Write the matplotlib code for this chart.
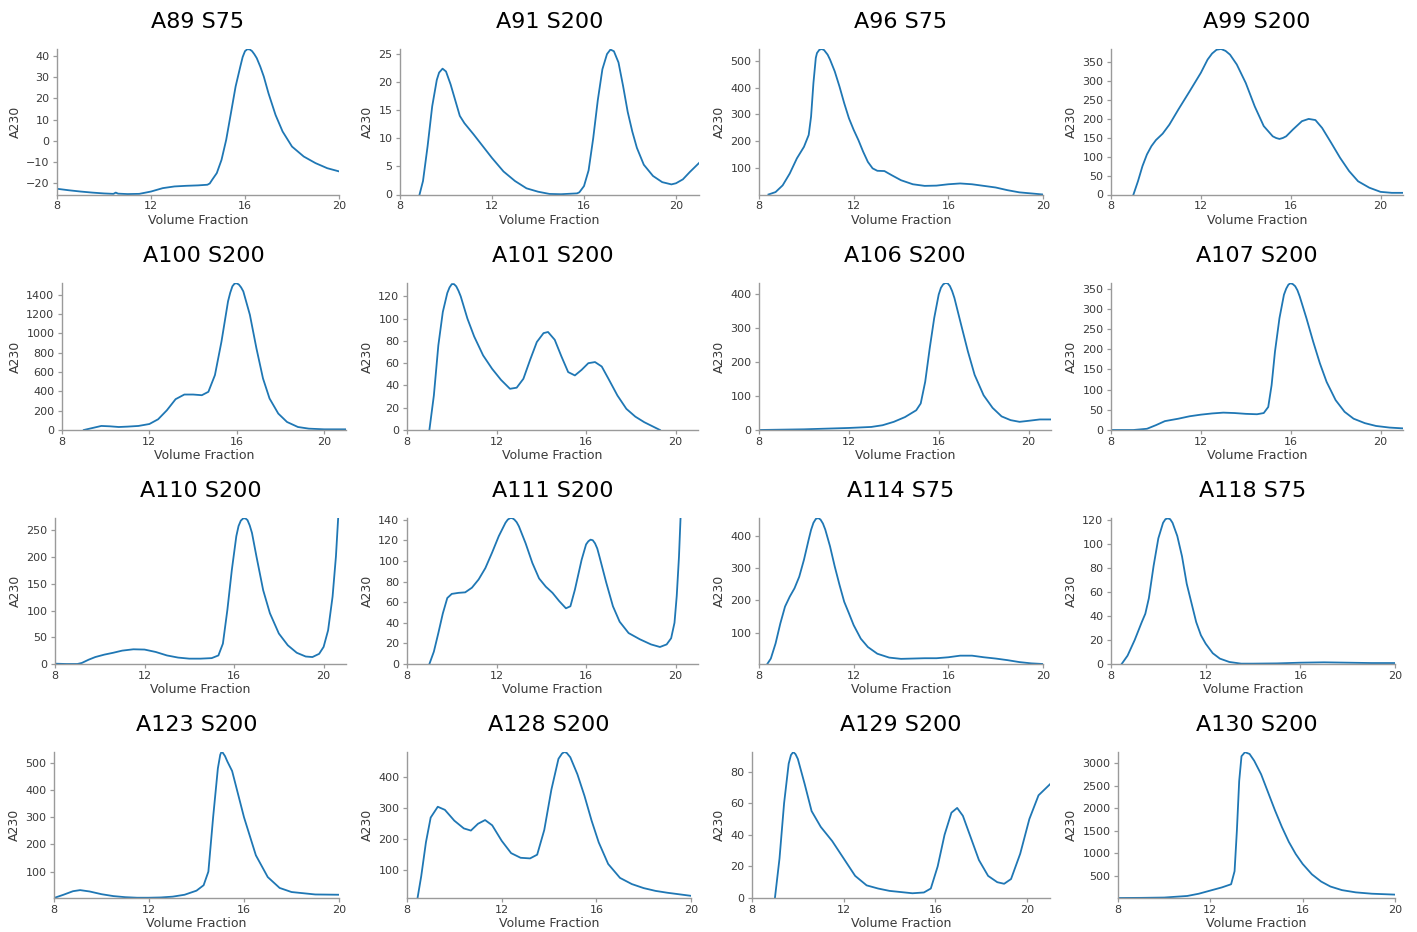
import matplotlib
matplotlib.use("Agg")
import matplotlib.pyplot as plt
from matplotlib.ticker import MultipleLocator

# ---------------- data ----------------
titles = ["A89 S75", "A91 S200", "A96 S75", "A99 S200",
          "A100 S200", "A101 S200", "A106 S200", "A107 S200",
          "A110 S200", "A111 S200", "A114 S75", "A118 S75",
          "A123 S200", "A128 S200", "A129 S200", "A130 S200"]

a89_x = [8.0, 8.5, 9.0, 9.5, 10.0, 10.4, 10.5, 10.6, 11.0, 11.5, 12.0, 12.5, 13.0, 13.5, 14.0, 14.4, 14.5, 14.6,
         14.8, 15.0, 15.2, 15.4, 15.6, 15.8, 15.9, 16.0, 16.1, 16.2, 16.3, 16.4, 16.5, 16.65, 16.8, 17.0, 17.3,
         17.6, 18.0, 18.5, 19.0, 19.5, 20.0]
a89_y = [-22.6, -23.3, -23.9, -24.4, -24.8, -25.0, -24.4, -24.9, -25.1, -25.0, -23.9, -22.3, -21.5, -21.2, -21.0,
         -20.7, -20.1, -18.4, -15.2, -9.0, 0.5, 13.0, 25.6, 35.0, 39.5, 42.3, 43.2, 43.1, 42.3, 40.8, 39.0, 35.0,
         30.3, 22.4, 12.2, 4.4, -2.7, -7.4, -10.5, -12.9, -14.4]

a91_x = [8.85, 9.0, 9.2, 9.4, 9.6, 9.7, 9.85, 10.0, 10.2, 10.4, 10.6, 10.8, 11.2, 11.6, 12.0, 12.5, 13.0, 13.5,
         14.0, 14.5, 15.0, 15.7, 15.8, 16.0, 16.2, 16.4, 16.6, 16.8, 17.0, 17.15, 17.3, 17.5, 17.7, 17.9, 18.1,
         18.3, 18.6, 19.0, 19.4, 19.8, 20.0, 20.3, 20.6, 21.0]
a91_y = [0.0, 2.4, 8.6, 15.7, 20.4, 21.7, 22.4, 21.9, 19.6, 16.8, 14.0, 12.7, 10.7, 8.6, 6.5, 4.1, 2.4, 1.1, 0.5,
         0.1, 0.05, 0.2, 0.4, 1.5, 4.3, 10.0, 16.8, 22.3, 25.0, 25.8, 25.5, 23.5, 19.3, 14.7, 11.2, 8.3, 5.3, 3.3,
         2.2, 1.8, 2.0, 2.7, 4.0, 5.6]

a96_x = [8.4, 8.7, 9.0, 9.3, 9.6, 9.9, 10.1, 10.2, 10.3, 10.4, 10.45, 10.55, 10.65, 10.75, 10.9, 11.0, 11.2, 11.4,
         11.6, 11.8, 12.0, 12.2, 12.4, 12.6, 12.8, 13.0, 13.3, 13.6, 14.0, 14.5, 15.0, 15.5, 16.0, 16.5, 17.0,
         17.5, 18.0, 18.5, 19.0, 19.5, 20.0]
a96_y = [3, 12, 37, 81, 137, 180, 224, 292, 417, 510, 528, 540, 543, 539, 522, 504, 460, 404, 342, 286, 243, 205,
         162, 124, 100, 91, 90, 75, 56, 41, 35, 36, 41, 44, 41, 35, 29, 19, 11, 7, 3]

a99_x = [9.0, 9.2, 9.4, 9.6, 9.8, 10.0, 10.3, 10.6, 11.0, 11.5, 12.0, 12.3, 12.5, 12.7, 12.9, 13.1, 13.3, 13.6,
         14.0, 14.4, 14.8, 15.2, 15.35, 15.5, 15.65, 15.8, 16.1, 16.5, 16.8, 17.1, 17.4, 17.8, 18.2, 18.6, 19.0,
         19.5, 20.0, 20.5, 21.0]
a99_y = [0, 35, 75, 106, 128, 144, 161, 185, 225, 273, 322, 357, 373, 383, 385, 380, 370, 344, 295, 233, 181, 154,
         149.5, 147, 149.5, 154, 172, 194, 200, 197, 176, 137, 97, 62, 35, 18, 7, 4.4, 4.4]

a100_x = [9.0, 9.4, 9.8, 10.2, 10.6, 11.0, 11.5, 12.0, 12.4, 12.8, 13.2, 13.6, 14.0, 14.4, 14.7, 15.0, 15.3, 15.6,
          15.7, 15.8, 15.9, 16.0, 16.1, 16.2, 16.3, 16.6, 16.9, 17.2, 17.5, 17.9, 18.3, 18.8, 19.3, 20.0, 21.0]
a100_y = [0, 21, 42, 38, 31, 35, 42, 62, 111, 204, 319, 367, 367, 360, 395, 568, 915, 1331, 1420, 1487, 1515, 1518,
          1504, 1475, 1434, 1192, 845, 534, 326, 170, 83, 31, 14, 7, 7]

a101_x = [9.0, 9.2, 9.4, 9.6, 9.8, 9.9, 10.0, 10.1, 10.2, 10.3, 10.4, 10.7, 11.0, 11.4, 11.8, 12.2, 12.6, 12.9,
          13.2, 13.5, 13.8, 14.1, 14.3, 14.6, 14.9, 15.2, 15.5, 15.8, 16.1, 16.4, 16.7, 17.0, 17.4, 17.8, 18.2,
          18.6, 19.0, 19.3]
a101_y = [0, 31, 76, 106, 123, 128, 131, 131, 129, 125, 120, 100, 84, 67, 55, 45, 37, 38, 46, 63, 79, 87, 88, 81,
          66, 52, 49, 54, 60, 61, 57, 46, 31, 19, 12, 7, 3, 0]

a106_x = [8.0, 9.0, 10.0, 11.0, 12.0, 13.0, 13.5, 14.0, 14.5, 15.0, 15.2, 15.4, 15.6, 15.8, 16.0, 16.1, 16.2, 16.3,
          16.4, 16.5, 16.6, 16.7, 17.0, 17.3, 17.6, 18.0, 18.4, 18.8, 19.2, 19.6, 20.0, 20.5, 21.0]
a106_y = [0, 1, 2, 4, 6, 9, 14, 24, 38, 58, 78, 142, 240, 329, 398, 418, 428, 432, 431, 423, 408, 388, 309, 231,
          162, 102, 65, 40, 29, 24, 27, 31, 31]

a107_x = [8.0, 9.0, 9.6, 10.0, 10.4, 11.0, 11.5, 12.0, 12.5, 13.0, 13.5, 14.0, 14.5, 14.8, 15.0, 15.15, 15.3, 15.5,
          15.7, 15.8, 15.9, 16.0, 16.1, 16.2, 16.3, 16.4, 16.7, 17.0, 17.3, 17.6, 18.0, 18.4, 18.8, 19.3, 19.8,
          20.4, 21.0]
a107_y = [0, 0, 3, 12, 22, 28, 34, 38, 41, 43, 42, 40, 39, 42, 57, 111, 194, 277, 335, 350, 360, 363.5, 361, 356,
          346, 331, 277, 219, 165, 119, 74, 45, 28, 17, 10, 6, 4]

a110_x = [8.0, 8.5, 9.0, 9.2, 9.5, 9.8, 10.2, 10.6, 11.0, 11.5, 12.0, 12.5, 13.0, 13.5, 14.0, 14.5, 15.0, 15.3,
          15.5, 15.7, 15.9, 16.1, 16.2, 16.3, 16.4, 16.5, 16.6, 16.7, 16.8, 17.0, 17.3, 17.6, 18.0, 18.4, 18.8,
          19.2, 19.5, 19.8, 20.0, 20.2, 20.4, 20.55, 20.65]
a110_y = [0.6, 0, 0, 2, 8, 13, 17.5, 21, 25, 27.5, 27, 22.5, 16, 12, 10, 10, 11, 16, 38, 101, 176, 239, 258, 268,
          272, 272.5, 269, 259, 245, 201, 138, 95, 57, 35, 21, 14, 13, 19, 32, 63, 126, 201, 273]

a111_x = [9.0, 9.2, 9.4, 9.6, 9.8, 10.0, 10.3, 10.6, 10.9, 11.2, 11.5, 11.8, 12.1, 12.4, 12.5, 12.6, 12.7, 12.8,
          12.9, 13.0, 13.3, 13.6, 13.9, 14.2, 14.5, 14.8, 15.1, 15.3, 15.5, 15.8, 16.0, 16.1, 16.2, 16.3, 16.4,
          16.5, 16.6, 16.9, 17.2, 17.5, 17.9, 18.4, 18.9, 19.3, 19.6, 19.8, 19.95, 20.05, 20.15, 20.22]
a111_y = [0, 12, 30, 49, 64, 68, 69, 69.5, 74, 82, 93, 108, 124, 137, 140, 141.4, 141.5, 140, 137.5, 133.5, 117,
          98, 83, 75, 69, 61, 54, 56, 72, 101, 116, 119, 120.6, 120, 117, 112, 104, 79, 56, 41, 30, 24, 19, 16.5,
          19, 25, 40, 66, 104, 141.6]

a114_x = [8.35, 8.5, 8.7, 8.9, 9.1, 9.3, 9.5, 9.7, 9.9, 10.1, 10.2, 10.3, 10.4, 10.5, 10.6, 10.7, 10.8, 11.0, 11.2,
          11.4, 11.6, 11.8, 12.0, 12.3, 12.6, 13.0, 13.5, 14.0, 14.5, 15.0, 15.5, 16.0, 16.5, 17.0, 17.5, 18.0,
          18.5, 19.0, 19.5, 20.0]
a114_y = [2, 19, 66, 128, 181, 212, 238, 274, 327, 390, 420, 442, 454, 457, 452, 440, 421, 369, 306, 249, 196, 160,
          123, 81, 55, 34, 22, 18, 19, 20, 20, 23, 28, 28, 23, 19, 14, 8, 4, 2]

a118_x = [8.45, 8.7, 9.0, 9.3, 9.45, 9.6, 9.8, 10.0, 10.2, 10.3, 10.4, 10.5, 10.6, 10.8, 11.0, 11.2, 11.4, 11.6,
          11.8, 12.0, 12.3, 12.6, 13.0, 13.5, 14.0, 15.0, 16.0, 17.0, 18.0, 19.0, 20.0]
a118_y = [0, 7, 20, 35, 42, 55, 82, 105, 118, 121, 121.7, 121, 118, 107, 90, 67, 51, 35, 24, 17, 9, 4.5, 1.7, 0.3,
          0.3, 0.5, 1.1, 1.4, 1.1, 0.8, 0.8]

a123_x = [8.0, 8.4, 8.8, 9.1, 9.5, 10.0, 10.5, 11.0, 11.5, 12.0, 12.5, 13.0, 13.5, 14.0, 14.3, 14.5, 14.7, 14.9,
          15.0, 15.05, 15.1, 15.2, 15.3, 15.5, 16.0, 16.5, 17.0, 17.5, 18.0, 19.0, 20.0]
a123_y = [3, 15, 28, 32, 27, 17, 10, 6, 4, 4, 5, 8, 15, 30, 50, 100, 300, 480, 530, 540, 538, 525, 505, 470, 300,
          160, 80, 40, 25, 16, 15]

a128_x = [8.45, 8.6, 8.8, 9.0, 9.3, 9.6, 10.0, 10.4, 10.7, 11.0, 11.3, 11.6, 12.0, 12.4, 12.8, 13.2, 13.5, 13.8,
          14.1, 14.4, 14.55, 14.65, 14.75, 14.9, 15.2, 15.5, 15.8, 16.1, 16.5, 17.0, 17.5, 18.0, 18.5, 19.0, 19.5,
          20.0]
a128_y = [12, 80, 190, 270, 305, 295, 260, 235, 228, 250, 262, 245, 195, 155, 140, 138, 150, 230, 360, 460, 477,
          482, 479, 465, 410, 340, 260, 190, 120, 75, 55, 42, 33, 27, 22, 17]

a129_x = [9.0, 9.2, 9.4, 9.6, 9.7, 9.8, 9.9, 10.0, 10.3, 10.6, 11.0, 11.5, 12.0, 12.5, 13.0, 13.5, 14.0, 15.0, 15.5,
          15.8, 16.1, 16.4, 16.7, 16.95, 17.2, 17.5, 17.9, 18.3, 18.7, 19.0, 19.3, 19.7, 20.1, 20.5, 21.0]
a129_y = [0, 25, 60, 85, 90.5, 92.4, 91, 88, 72, 55, 45, 36, 25, 14, 8, 6, 4.5, 3, 3.5, 6, 20, 40, 54, 57, 52, 40,
          24, 14, 10, 9, 12, 28, 50, 65, 72]

a130_x = [8.0, 9.0, 10.0, 11.0, 11.5, 12.0, 12.5, 12.9, 13.05, 13.15, 13.25, 13.35, 13.5, 13.7, 13.9, 14.2, 14.5,
          14.8, 15.1, 15.4, 15.7, 16.0, 16.4, 16.8, 17.2, 17.7, 18.3, 19.0, 19.5, 20.0]
a130_y = [5, 8, 15, 50, 100, 170, 240, 310, 600, 1500, 2600, 3150, 3240, 3200, 3050, 2750, 2350, 1950, 1580, 1250,
          980, 760, 530, 370, 260, 180, 130, 100, 90, 80]

series_x = [a89_x, a91_x, a96_x, a99_x, a100_x, a101_x, a106_x, a107_x,
            a110_x, a111_x, a114_x, a118_x, a123_x, a128_x, a129_x, a130_x]
series_y = [a89_y, a91_y, a96_y, a99_y, a100_y, a101_y, a106_y, a107_y,
            a110_y, a111_y, a114_y, a118_y, a123_y, a128_y, a129_y, a130_y]

x_ticks = [8, 12, 16, 20]
x_max = [20, 21, 20, 21, 21, 21, 21, 21, 21, 21, 20, 20, 20, 20, 21, 20]
y_lims = [(-25.3, 43.3), (0, 25.9), (3, 543), (0, 385), (0, 1521), (0, 132), (0, 432), (0, 364),
          (0, 273), (0, 141.6), (2, 457), (0, 122), (3, 540), (10, 482), (0, 92.4), (5, 3244)]
y_steps = [10, 5, 100, 50, 200, 20, 100, 50, 50, 20, 100, 20, 100, 100, 20, 500]

# ---------------- layout (pixel boxes: left, right, top, bottom) ----------------
W, H = 1417, 932
rows_tb = [(49, 194.5), (283, 430), (518, 664), (752, 898)]
cols_lr = [[(57, 339), (400, 699), (759, 1043), (1111, 1403)],
           [(62, 346), (407, 698), (759, 1051), (1111, 1403)],
           [(55, 346), (407, 698), (759, 1043), (1111, 1395)],
           [(54, 339), (407, 691), (752, 1050), (1118, 1395)]]

fig = plt.figure(figsize=(W / 100, H / 100), dpi=100)
spine_c = "#9a9a9a"
text_c = "#3a3a3a"

for i in range(16):
    r, c = divmod(i, 4)
    top, bot = rows_tb[r]
    left, right = cols_lr[r][c]
    ax = fig.add_axes([left / W, 1 - bot / H, (right - left) / W, (bot - top) / H])
    ax.plot(series_x[i], series_y[i], color="#1f77b4", lw=1.3)
    ax.set_xlim(8, x_max[i])
    ax.set_ylim(*y_lims[i])
    ax.set_xticks(x_ticks)
    ax.yaxis.set_major_locator(MultipleLocator(y_steps[i]))
    for s in ("top", "right"):
        ax.spines[s].set_visible(False)
    for s in ("left", "bottom"):
        ax.spines[s].set_color(spine_c)
        ax.spines[s].set_linewidth(1.0)
    ax.tick_params(axis="both", colors=spine_c, labelcolor=text_c, labelsize=8, length=3, width=0.9)
    ax.tick_params(axis="x", pad=2)
    ax.tick_params(axis="y", pad=2.5)
    ax.set_title(titles[i], fontsize=16, pad=15, color="black")
    ax.set_xlabel("Volume Fraction", fontsize=9, color=text_c, labelpad=1.5)
    ax.set_ylabel("A230", fontsize=9, color=text_c, labelpad=3)

fig.savefig("out.png", dpi=100)
